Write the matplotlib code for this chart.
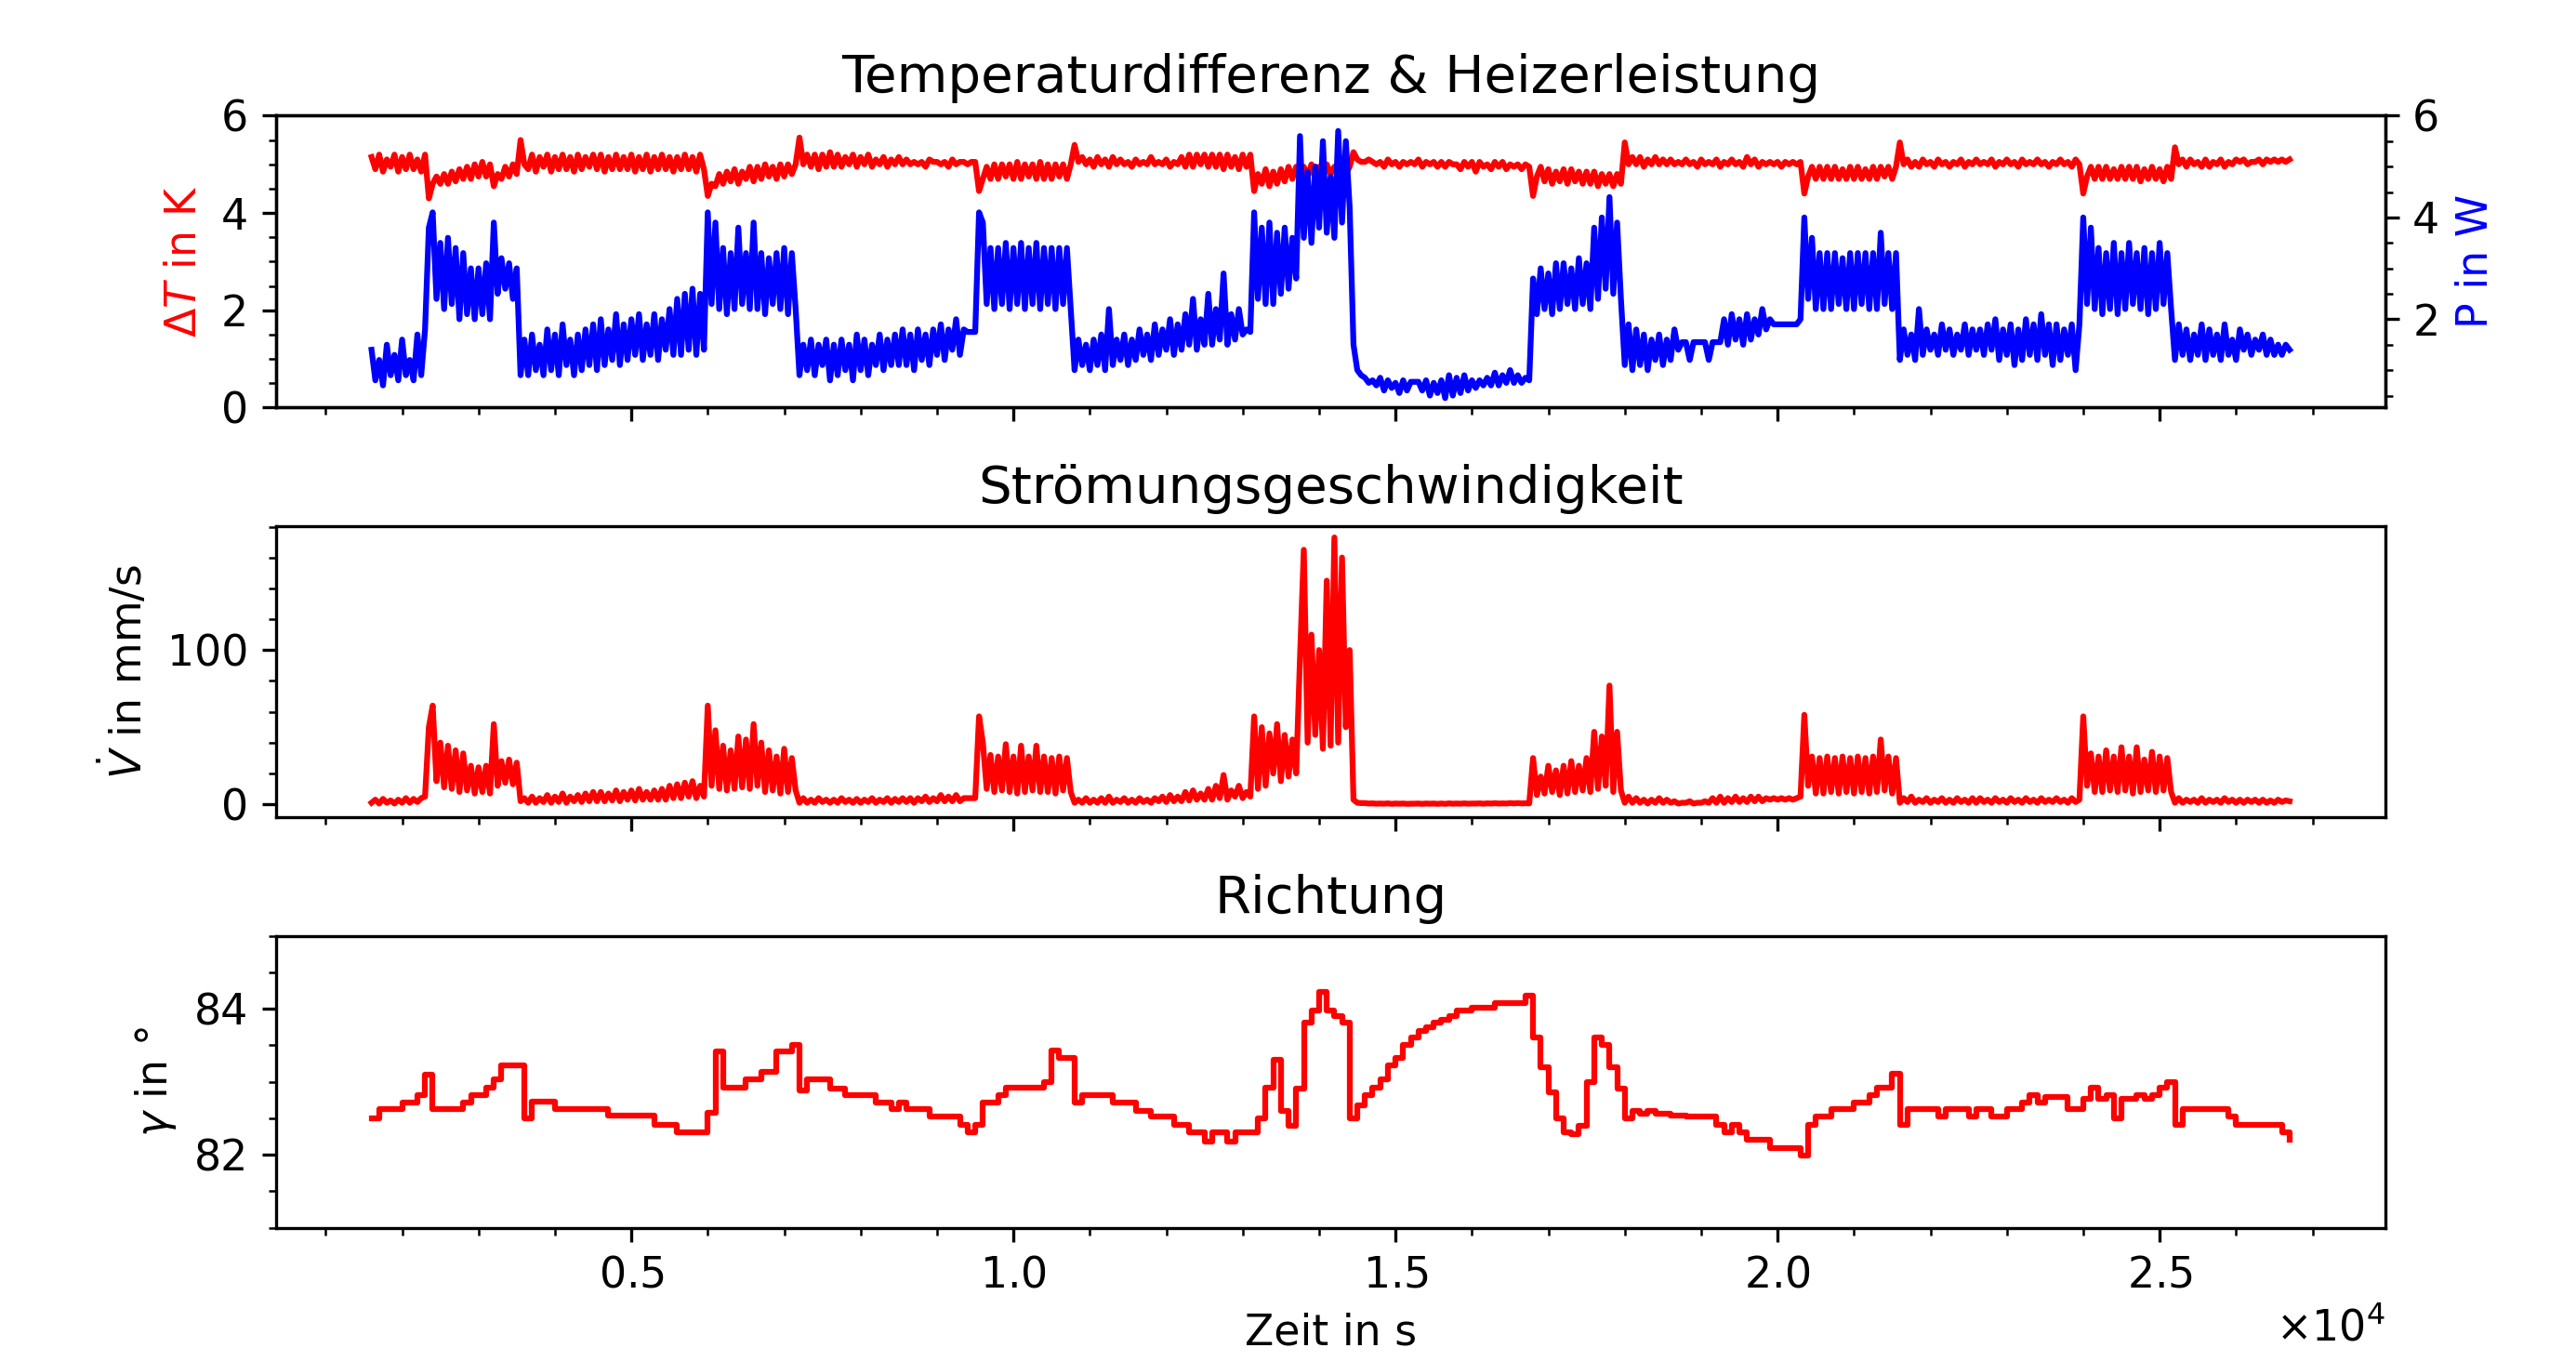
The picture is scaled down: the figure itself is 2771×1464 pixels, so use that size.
import numpy as np
import matplotlib
matplotlib.use('Agg')
import matplotlib.pyplot as plt
from matplotlib.ticker import MultipleLocator

# Zeitachsen in s (Messwerte alle 50 s, Richtung alle 100 s)
zeit_fein = np.arange(1600, 26750, 50)
zeit = np.arange(1600, 26800, 100)

# Temperaturdifferenz in K
delta_t = [
    5.15, 4.9, 5.2, 4.85, 5.1, 4.95, 5.2, 4.85, 5.15, 4.9, 5.2, 4.9, 5.1, 4.85, 5.2, 4.3, 4.6, 4.75, 4.6, 4.8,
    4.6, 4.85, 4.65, 4.9, 4.7, 4.95, 4.7, 5.0, 4.75, 5.05, 4.75, 5.0, 4.55, 4.8, 4.7, 4.95, 4.75, 5.0, 4.8, 5.5,
    5.0, 4.9, 5.2, 4.85, 5.15, 4.95, 5.2, 4.85, 5.15, 4.9, 5.2, 4.9, 5.15, 4.85, 5.2, 4.9, 5.15, 4.95, 5.2, 4.9,
    5.2, 4.85, 5.15, 4.9, 5.2, 4.9, 5.15, 4.9, 5.2, 4.85, 5.15, 4.9, 5.2, 4.85, 5.15, 4.9, 5.2, 4.9, 5.15, 4.85,
    5.15, 4.9, 5.2, 4.9, 5.15, 4.85, 5.2, 4.9, 4.35, 4.6, 4.55, 4.8, 4.6, 4.85, 4.65, 4.9, 4.6, 4.85, 4.7, 4.95,
    4.65, 4.95, 4.7, 5.0, 4.75, 4.95, 4.7, 5.0, 4.75, 5.0, 4.8, 5.0, 5.55, 5.0, 5.2, 4.95, 5.2, 4.9, 5.2, 4.95,
    5.25, 4.95, 5.2, 4.95, 5.15, 5.0, 5.2, 4.95, 5.15, 5.0, 5.2, 4.95, 5.1, 5.0, 5.15, 4.95, 5.1, 5.0, 5.15, 5.0,
    5.1, 5.0, 5.05, 5.0, 5.05, 4.95, 5.1, 5.05, 5.05, 5.0, 5.05, 4.95, 5.1, 5.0, 5.05, 5.05, 5.0, 5.05, 5.05, 4.45,
    4.7, 4.95, 4.7, 5.0, 4.7, 5.0, 4.75, 5.0, 4.7, 5.05, 4.7, 5.0, 4.75, 5.0, 4.7, 5.05, 4.7, 5.0, 4.7, 5.0,
    4.75, 5.0, 4.7, 5.0, 5.4, 5.05, 5.15, 5.0, 5.1, 4.95, 5.15, 5.0, 5.1, 4.95, 5.15, 5.0, 5.1, 5.0, 5.05, 4.95,
    5.1, 5.0, 5.05, 5.0, 5.15, 5.0, 5.05, 5.0, 5.1, 4.95, 5.05, 5.0, 5.15, 4.95, 5.2, 4.95, 5.2, 5.0, 5.2, 4.95,
    5.2, 4.95, 5.2, 4.9, 5.2, 4.95, 5.15, 4.9, 5.2, 4.95, 5.2, 4.45, 4.8, 4.6, 4.9, 4.55, 4.85, 4.6, 4.9, 4.65,
    4.95, 4.7, 4.95, 4.7, 4.95, 4.75, 5.0, 4.7, 4.95, 4.75, 5.0, 4.8, 4.95, 4.75, 5.0, 4.8, 4.95, 5.25, 5.1, 5.05,
    5.05, 5.1, 5.05, 5.0, 5.05, 4.95, 5.1, 5.0, 5.05, 4.95, 5.05, 5.0, 5.05, 5.0, 5.1, 4.95, 5.05, 5.0, 5.05, 4.95,
    5.05, 4.95, 5.05, 5.0, 5.0, 4.9, 5.05, 4.95, 5.05, 4.85, 5.05, 4.95, 5.0, 4.9, 5.05, 4.95, 5.05, 4.9, 5.0, 4.95,
    5.0, 4.9, 5.0, 4.95, 4.35, 4.75, 4.95, 4.65, 4.9, 4.6, 4.85, 4.65, 4.9, 4.6, 4.9, 4.65, 4.85, 4.6, 4.85, 4.6,
    4.85, 4.55, 4.8, 4.6, 4.8, 4.55, 4.8, 4.6, 5.45, 5.0, 5.15, 5.0, 5.15, 4.95, 5.1, 5.0, 5.15, 5.0, 5.1, 5.0,
    5.1, 5.0, 5.05, 5.0, 5.1, 5.0, 5.05, 4.95, 5.1, 5.0, 5.05, 5.0, 5.1, 4.95, 5.05, 5.0, 5.1, 5.0, 5.05, 4.95,
    5.15, 5.0, 5.1, 4.95, 5.05, 5.0, 5.05, 5.0, 5.05, 4.95, 5.05, 5.0, 5.05, 5.0, 5.05, 4.4, 4.75, 4.95, 4.7, 4.95,
    4.7, 4.95, 4.7, 4.95, 4.7, 4.9, 4.7, 4.95, 4.7, 4.95, 4.7, 4.9, 4.7, 4.95, 4.7, 4.95, 4.75, 4.95, 4.7, 4.95,
    5.45, 5.0, 5.1, 4.95, 5.05, 4.95, 5.1, 5.0, 5.05, 4.95, 5.1, 5.0, 5.05, 4.95, 5.05, 5.0, 5.1, 4.95, 5.05, 5.0,
    5.1, 5.0, 5.05, 5.0, 5.1, 4.95, 5.05, 5.0, 5.1, 5.0, 5.05, 4.95, 5.1, 5.0, 5.05, 5.0, 5.1, 5.0, 5.05, 4.95,
    5.05, 5.0, 5.1, 5.0, 5.05, 4.95, 5.1, 5.0, 4.4, 4.75, 4.95, 4.7, 4.95, 4.7, 4.95, 4.7, 4.9, 4.7, 4.95, 4.7,
    4.95, 4.7, 4.95, 4.65, 4.9, 4.7, 4.95, 4.7, 4.9, 4.65, 4.95, 4.7, 5.35, 5.0, 5.1, 4.95, 5.1, 5.0, 5.05, 4.95,
    5.1, 4.95, 5.05, 5.0, 5.1, 4.95, 5.05, 5.0, 5.1, 5.05, 5.1, 5.0, 5.05, 5.05, 5.1, 5.0, 5.1, 5.05, 5.1, 5.05,
    5.1, 5.05, 5.1,
]

# Heizerleistung in W
leistung = [
    1.4, 0.8, 1.2, 0.7, 1.5, 0.9, 1.3, 0.8, 1.6, 0.9, 1.2, 0.8, 1.7, 0.9, 1.8, 3.8, 4.1, 2.4, 3.5, 2.2,
    3.6, 2.3, 3.4, 2.0, 3.3, 2.1, 3.0, 2.0, 3.0, 2.1, 3.1, 2.0, 3.9, 2.5, 3.2, 2.6, 3.1, 2.4, 3.0, 0.9,
    1.6, 0.9, 1.7, 1.0, 1.5, 0.9, 1.8, 1.0, 1.7, 0.9, 1.9, 1.1, 1.6, 0.9, 1.7, 1.0, 1.8, 1.1, 1.9, 1.0,
    2.0, 1.1, 1.8, 1.2, 2.1, 1.1, 1.9, 1.2, 2.0, 1.3, 2.1, 1.2, 1.9, 1.3, 2.1, 1.2, 2.0, 1.4, 2.2, 1.3,
    2.4, 1.3, 2.5, 1.4, 2.6, 1.3, 2.5, 1.4, 4.1, 2.3, 3.9, 2.2, 3.4, 2.1, 3.3, 2.2, 3.8, 2.3, 3.3, 2.2,
    3.9, 2.2, 3.3, 2.1, 3.2, 2.3, 3.3, 2.2, 3.4, 2.1, 3.3, 2.2, 0.9, 1.5, 1.0, 1.6, 0.9, 1.5, 1.1, 1.6,
    0.8, 1.5, 0.9, 1.6, 1.0, 1.5, 0.8, 1.7, 1.0, 1.6, 0.9, 1.5, 1.1, 1.7, 1.0, 1.6, 1.1, 1.7, 1.1, 1.8,
    1.1, 1.7, 1.0, 1.8, 1.2, 1.7, 1.1, 1.8, 1.3, 1.9, 1.2, 1.8, 1.4, 2.0, 1.3, 1.8, 1.75, 1.75, 1.75, 4.1,
    3.9, 2.3, 3.4, 2.2, 3.4, 2.3, 3.5, 2.2, 3.4, 2.3, 3.5, 2.2, 3.4, 2.3, 3.5, 2.2, 3.4, 2.3, 3.4, 2.2,
    3.4, 2.3, 3.4, 2.2, 1.0, 1.6, 1.1, 1.5, 1.0, 1.6, 1.1, 1.7, 1.0, 2.2, 1.1, 1.6, 1.2, 1.7, 1.1, 1.6,
    1.2, 1.8, 1.3, 1.7, 1.2, 1.9, 1.3, 1.8, 1.4, 2.0, 1.3, 1.9, 1.4, 2.1, 1.5, 2.4, 1.4, 2.0, 1.5, 2.5,
    1.5, 2.2, 1.6, 2.9, 1.5, 2.1, 1.6, 2.2, 1.7, 1.8, 1.75, 4.1, 2.4, 3.8, 2.3, 3.9, 2.3, 3.7, 2.5, 3.8,
    2.6, 3.6, 2.8, 5.6, 3.6, 4.9, 3.5, 5.0, 3.8, 5.5, 3.7, 4.8, 3.6, 5.7, 3.9, 5.5, 4.2, 1.5, 1.0, 0.9,
    0.85, 0.75, 0.8, 0.7, 0.85, 0.6, 0.8, 0.65, 0.75, 0.55, 0.8, 0.6, 0.77, 0.77, 0.77, 0.6, 0.8, 0.5, 0.75, 0.55,
    0.8, 0.45, 0.9, 0.5, 0.85, 0.55, 0.9, 0.6, 0.8, 0.65, 0.8, 0.7, 0.85, 0.7, 0.95, 0.7, 0.9, 0.75, 1.0, 0.75,
    0.9, 0.75, 0.85, 0.8, 2.8, 2.1, 3.0, 2.2, 2.9, 2.1, 3.1, 2.2, 3.1, 2.3, 3.0, 2.2, 3.2, 2.3, 3.1, 2.2,
    3.8, 2.4, 4.0, 2.6, 4.4, 2.5, 3.9, 2.4, 1.1, 1.9, 1.0, 1.8, 1.1, 1.7, 1.0, 1.6, 1.2, 1.7, 1.1, 1.6,
    1.2, 1.8, 1.4, 1.55, 1.55, 1.2, 1.55, 1.55, 1.55, 1.55, 1.2, 1.55, 1.55, 1.55, 2.0, 1.5, 2.1, 1.6, 2.0, 1.5,
    2.1, 1.6, 2.0, 1.7, 2.2, 1.8, 2.0, 1.9, 1.9, 1.9, 1.9, 1.9, 1.9, 1.9, 2.0, 4.0, 2.4, 3.6, 2.2, 3.3,
    2.2, 3.3, 2.2, 3.3, 2.3, 3.2, 2.2, 3.3, 2.2, 3.3, 2.3, 3.3, 2.2, 3.3, 2.2, 3.7, 2.3, 3.3, 2.2, 3.3,
    1.2, 1.8, 1.3, 1.7, 1.2, 2.2, 1.3, 1.8, 1.4, 1.7, 1.3, 1.9, 1.4, 1.8, 1.3, 1.7, 1.4, 1.9, 1.3, 1.8,
    1.4, 1.8, 1.3, 1.9, 1.4, 2.0, 1.2, 1.8, 1.3, 1.9, 1.1, 1.8, 1.2, 2.0, 1.3, 1.9, 1.2, 2.1, 1.3, 1.9,
    1.1, 1.9, 1.2, 1.8, 1.3, 1.9, 1.0, 1.9, 4.0, 2.3, 3.8, 2.2, 3.4, 2.1, 3.3, 2.2, 3.5, 2.1, 3.3, 2.2,
    3.5, 2.3, 3.3, 2.2, 3.4, 2.1, 3.3, 2.2, 3.5, 2.3, 3.3, 2.2, 1.2, 1.9, 1.3, 1.8, 1.2, 1.7, 1.3, 1.9,
    1.2, 1.8, 1.3, 1.7, 1.2, 1.9, 1.3, 1.6, 1.2, 1.8, 1.4, 1.7, 1.3, 1.6, 1.4, 1.7, 1.3, 1.6, 1.3, 1.5,
    1.3, 1.5, 1.4,
]

# Stroemungsgeschwindigkeit in mm/s
v_punkt = [
    1, 3, 0.5, 3.5, 1, 2.5, 0.5, 3, 1, 4, 1, 3.5, 1.5, 4, 5, 50, 64, 15, 40, 11,
    38, 10, 35, 8, 33, 9, 25, 7, 24, 8, 25, 7, 52, 12, 28, 14, 29, 13, 27, 2,
    4, 1, 5, 1, 4, 1.5, 6, 1, 5, 1.5, 7, 1, 5, 2, 6, 1.5, 7, 2, 8, 2,
    8, 2, 7, 2.5, 9, 2, 8, 3, 9, 2.5, 10, 3, 8, 3, 9, 3, 10, 3, 12, 4,
    13, 4, 14, 5, 15, 4, 12, 5, 64, 12, 48, 10, 38, 9, 35, 10, 44, 11, 42, 10,
    52, 12, 40, 8, 35, 9, 31, 7, 36, 8, 30, 9, 1, 4, 1, 3, 1, 4, 1.5, 3,
    1, 3, 1, 4, 1.5, 3, 1, 3.5, 1, 3, 1.5, 4, 1, 3, 1.5, 4, 1, 3.5, 1.5, 4,
    1.5, 4, 1, 4, 2, 5, 1.5, 4, 2, 6, 2, 5, 2, 6, 2, 4, 4, 4, 4, 57,
    40, 10, 32, 8, 31, 9, 39, 8, 31, 7, 38, 8, 31, 9, 38, 8, 31, 8, 30, 7,
    31, 9, 30, 8, 1, 3, 1, 4, 1, 3, 1, 4, 1, 5, 1, 3, 1.5, 4, 1, 3,
    1, 4, 1.5, 3, 1, 4, 2, 5, 1.5, 6, 2, 5, 2, 8, 2.5, 9, 3, 7, 3, 10,
    3, 12, 4, 19, 3, 9, 5, 12, 4, 8, 5, 57, 10, 50, 12, 46, 20, 52, 15, 45,
    18, 42, 20, 95, 165, 40, 110, 45, 100, 36, 145, 38, 173, 40, 160, 50, 100, 3, 1, 0.8,
    0.8, 0.5, 0.6, 0.4, 0.5, 0.4, 0.6, 0.3, 0.5, 0.4, 0.5, 0.3, 0.4, 0.4, 0.5, 0.3, 0.5, 0.4, 0.5, 0.3,
    0.5, 0.3, 0.6, 0.4, 0.5, 0.4, 0.6, 0.4, 0.5, 0.5, 0.6, 0.4, 0.6, 0.5, 0.7, 0.5, 0.6, 0.5, 0.8, 0.6,
    0.8, 0.6, 0.7, 0.6, 30, 6, 18, 7, 25, 8, 22, 6, 25, 7, 28, 8, 25, 9, 30, 8,
    47, 10, 44, 12, 77, 8, 47, 9, 1, 5, 1, 4, 1, 3, 0.5, 3, 1, 4, 1, 3,
    1, 2, 0.5, 1, 1, 2, 0.5, 1, 1, 2, 1, 4, 1, 5, 1, 4, 1.5, 5, 1.5, 4,
    1.5, 5, 2, 5, 2, 4, 3, 4, 3, 4, 3, 4, 3, 4, 5, 58, 12, 31, 7, 30,
    7, 31, 8, 30, 7, 31, 8, 30, 7, 31, 8, 30, 7, 31, 8, 42, 9, 31, 7, 30,
    1, 4, 1.5, 5, 1, 3, 1.5, 4, 1, 3, 1.5, 4, 1, 3, 1, 4, 1.5, 3, 1, 4,
    1, 4, 1.5, 3, 1, 4, 1.5, 3, 1, 4, 1.5, 3, 1, 4, 1.5, 3, 1, 4, 1.5, 3,
    1.5, 4, 1.5, 3, 1, 4, 1.5, 3, 57, 12, 33, 8, 31, 8, 35, 9, 31, 8, 37, 9,
    31, 7, 37, 8, 29, 9, 34, 8, 31, 9, 30, 8, 1, 4, 1, 3, 1.5, 3, 1, 4,
    1, 3, 1.5, 3, 1, 4, 1.5, 3, 1, 3, 1, 3, 1.5, 3, 1, 3, 1, 2.5, 1, 3,
    1.5, 2.5, 2,
]

# Richtung in Grad
gamma = [
    82.5, 82.62, 82.62, 82.62, 82.71, 82.71, 82.81, 83.1, 82.62, 82.62,
    82.62, 82.62, 82.71, 82.81, 82.81, 82.92, 83.03, 83.22, 83.22, 83.22,
    82.5, 82.73, 82.73, 82.73, 82.62, 82.62, 82.62, 82.62, 82.62, 82.62,
    82.62, 82.54, 82.54, 82.54, 82.54, 82.54, 82.54, 82.41, 82.41, 82.41,
    82.3, 82.3, 82.3, 82.3, 82.58, 83.41, 82.92, 82.92, 82.92, 83.03,
    83.03, 83.13, 83.13, 83.41, 83.41, 83.51, 82.88, 83.03, 83.03, 83.03,
    82.9, 82.9, 82.81, 82.81, 82.81, 82.81, 82.71, 82.71, 82.62, 82.71,
    82.62, 82.62, 82.62, 82.52, 82.52, 82.52, 82.52, 82.41, 82.3, 82.41,
    82.71, 82.71, 82.81, 82.92, 82.92, 82.92, 82.92, 82.92, 83.0, 83.43,
    83.32, 83.32, 82.71, 82.81, 82.81, 82.81, 82.81, 82.71, 82.71, 82.71,
    82.6, 82.6, 82.52, 82.52, 82.52, 82.41, 82.41, 82.3, 82.3, 82.18,
    82.3, 82.3, 82.18, 82.3, 82.3, 82.3, 82.5, 82.92, 83.3, 82.6,
    82.39, 82.9, 83.81, 83.98, 84.23, 83.98, 83.9, 83.81, 82.5, 82.67,
    82.81, 82.92, 83.03, 83.22, 83.32, 83.5, 83.6, 83.7, 83.75, 83.81,
    83.85, 83.9, 83.98, 83.98, 84.02, 84.02, 84.02, 84.08, 84.08, 84.08,
    84.08, 84.18, 83.6, 83.2, 82.85, 82.5, 82.3, 82.28, 82.4, 83.0,
    83.6, 83.5, 83.2, 82.9, 82.5, 82.6, 82.56, 82.6, 82.56, 82.56,
    82.54, 82.54, 82.52, 82.52, 82.52, 82.52, 82.41, 82.3, 82.41, 82.3,
    82.2, 82.2, 82.2, 82.09, 82.09, 82.09, 82.09, 81.99, 82.41, 82.52,
    82.52, 82.62, 82.62, 82.62, 82.71, 82.71, 82.81, 82.92, 82.92, 83.11,
    82.41, 82.62, 82.62, 82.62, 82.62, 82.52, 82.62, 82.62, 82.62, 82.52,
    82.62, 82.62, 82.52, 82.52, 82.62, 82.62, 82.71, 82.81, 82.71, 82.79,
    82.79, 82.79, 82.62, 82.62, 82.77, 82.92, 82.77, 82.81, 82.5, 82.77,
    82.77, 82.81, 82.77, 82.81, 82.92, 83.0, 82.41, 82.62, 82.62, 82.62,
    82.62, 82.62, 82.62, 82.52, 82.41, 82.41, 82.41, 82.41, 82.41, 82.41,
    82.3, 82.2,
]

plt.rcParams['font.size'] = 11

fig, (ax1, ax2, ax3) = plt.subplots(3, 1, sharex=True, figsize=(9.237, 4.88), dpi=300)
fig.subplots_adjust(left=0.107, right=0.926, bottom=0.098, top=0.915, hspace=0.405)

# Temperaturdifferenz & Heizerleistung
ax1.plot(zeit_fein, delta_t, color='red', lw=1.5)
ax1.set_ylim(0, 6)
ax1.yaxis.set_major_locator(MultipleLocator(2))
ax1.yaxis.set_minor_locator(MultipleLocator(0.5))
ax1.set_ylabel(r'$\Delta T$ in K', color='red')
ax1.set_title('Temperaturdifferenz & Heizerleistung', fontsize=13.5)

ax1b = ax1.twinx()
ax1b.plot(zeit_fein, leistung, color='blue', lw=1.5)
ax1b.set_ylim(0.265, 6)
ax1b.yaxis.set_major_locator(MultipleLocator(2))
ax1b.yaxis.set_minor_locator(MultipleLocator(0.5))
ax1b.set_ylabel('P in W', color='blue')

# Strömungsgeschwindigkeit
ax2.plot(zeit_fein, v_punkt, color='red', lw=1.5)
ax2.set_ylim(-8.6, 180.6)
ax2.yaxis.set_major_locator(MultipleLocator(100))
ax2.yaxis.set_minor_locator(MultipleLocator(20))
ax2.set_ylabel(r'$\dot{V}$ in mm/s')
ax2.set_title('Strömungsgeschwindigkeit', fontsize=13.5)

# Richtung
ax3.plot(zeit, gamma, color='red', lw=1.5, drawstyle='steps-post')
ax3.set_ylim(81, 85)
ax3.yaxis.set_major_locator(MultipleLocator(2))
ax3.yaxis.set_minor_locator(MultipleLocator(0.5))
ax3.set_ylabel(r'$\gamma$ in °')
ax3.set_title('Richtung', fontsize=13.5)

ax3.xaxis.set_major_locator(MultipleLocator(5000))
ax3.xaxis.set_minor_locator(MultipleLocator(1000))
ax3.ticklabel_format(axis='x', style='sci', scilimits=(0, 0), useMathText=True)
ax3.set_xlabel('Zeit in s')

fig.savefig('out.png', dpi=300)
